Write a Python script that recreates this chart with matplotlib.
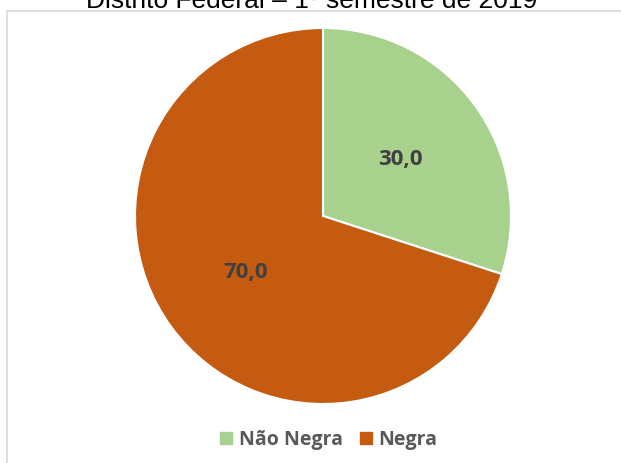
import matplotlib.pyplot as plt
from matplotlib.patches import Rectangle
from matplotlib.lines import Line2D

categories = ['Não Negra', 'Negra']
values = [30.0, 70.0]
colors = ['#A9D18E', '#C55A11']
title = 'Distrito Federal – 1º semestre de 2019'

fig = plt.figure(figsize=(6.21, 4.63), dpi=100)
W, H = 621, 463

# outer chart border (shifted, partially off-canvas)
fig.patches.append(Rectangle((7 / W, -0.05), 1.0, (463 - 11) / H + 0.05,
                             transform=fig.transFigure, fill=False,
                             edgecolor='#D9D9D9', linewidth=1.2))

# title, mostly clipped at the top like in the original
fig.text(312 / W, 1 - 8 / H, title, ha='center', va='baseline',
         fontsize=19, family='Liberation Sans', color='black')

cx, cy, r = 323, 216, 188
ax = fig.add_axes([(cx - r) / W, (H - cy - r) / H, 2 * r / W, 2 * r / H])
wedges, texts, autotexts = ax.pie(
    values, colors=colors, startangle=90, counterclock=False,
    autopct=lambda p: f'{p:.1f}'.replace('.', ','), pctdistance=0.51,
    wedgeprops=dict(edgecolor='white', linewidth=1.5),
    textprops=dict(fontsize=16, fontweight='bold', color='#404040',
                   family='Open Sans'))
ax.set_aspect('equal')
ax.set_xlim(-1, 1)
ax.set_ylim(-1, 1)

handles = [Line2D([], [], marker='s', linestyle='none', markersize=8,
                  markerfacecolor=c, markeredgecolor=c) for c in colors]
fig.legend(handles, categories, loc='center', bbox_to_anchor=(326 / W, 1 - 440 / H),
           ncol=2, frameon=False, handletextpad=0.05, handlelength=1.2,
           columnspacing=0.6,
           prop=dict(size=14, weight='bold', family='Open Sans'),
           labelcolor='#595959')

fig.savefig('out.png', dpi=100)
